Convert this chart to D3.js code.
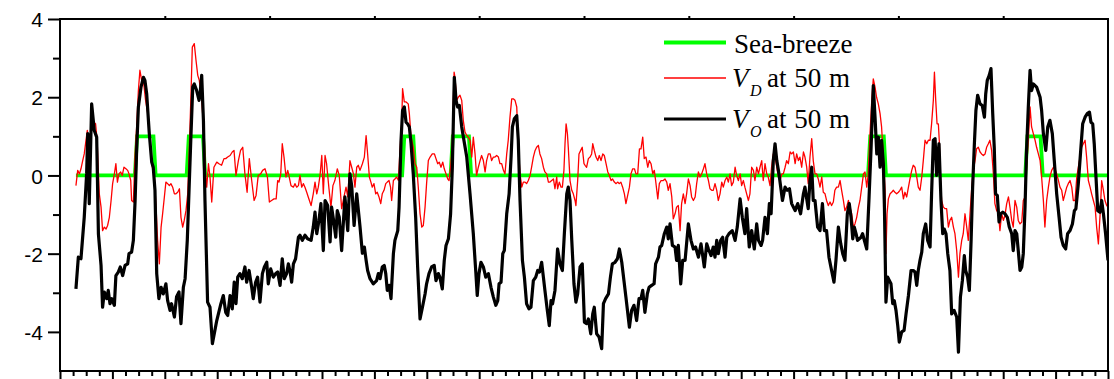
<!DOCTYPE html>
<html>
<head>
<meta charset="utf-8">
<script src="https://cdn.jsdelivr.net/npm/d3@7"></script>
<style>
  html, body { margin: 0; padding: 0; background: #fff; }
  svg { display: block; }
</style>
</head>
<body>
<svg id="chart" width="1114" height="379"></svg>
<script>
// Time axis in hours from the start of the record (20 days).
const timeDomain = [0, 480];
const valueDomain = [-5, 4];
const valueTicks = [4, 2, 0, -2, -4];
const valueMinorTicks = [3, 1, -1, -3];

// Sea-breeze periods [start hour, end hour]; indicator is 1 inside, 0 outside.
const recordStart = 7.3;
const recordEnd = 480;
const seaBreezePeriods = [
  [34.8, 43.3], [58.5, 66.0], [157.2, 162.3], [179.4, 187.8], [370.6, 377.8], [442.6, 449.6]
];

// V_O at 50 m: [hour, value]
const voSeries = [
[7.3,-2.90],[8.4,-2.09],[9.6,-2.13],[11.1,-1.07],[12.2,0.04],[12.7,1.07],[13.4,-0.72],[14.5,1.83],[15.7,1.15],[16.8,0.98],
[17.6,-1.50],[18.8,-2.30],[19.5,-3.37],[20.3,-2.98],[21.4,-3.15],[22.1,-2.94],[22.9,-3.28],[23.7,-3.15],[24.9,-3.32],[25.6,-2.56],
[26.7,-2.47],[27.6,-2.34],[28.7,-2.56],[29.8,-2.30],[31.0,-2.26],[31.6,-2.00],[32.8,-1.96],[33.6,-1.66],[34.4,-0.64],[35.1,0.64],
[35.9,1.75],[37.1,2.26],[38.2,2.51],[38.9,2.43],[39.7,2.09],[40.9,1.07],[42.0,0.34],[42.7,0.21],[43.5,-0.38],[44.3,-2.51],
[45.3,-3.15],[46.3,-2.86],[47.3,-3.03],[48.5,-2.77],[49.3,-3.20],[50.4,-3.45],[51.1,-3.28],[52.4,-3.62],[53.4,-3.10],[54.5,-2.98],
[55.4,-3.79],[56.5,-2.86],[57.3,-2.64],[58.3,-1.66],[59.1,-0.38],[59.9,0.90],[60.8,2.26],[61.5,2.34],[62.6,2.17],[63.7,1.92],
[64.1,2.05],[64.9,2.56],[65.7,1.40],[66.4,-0.64],[67.6,-3.24],[68.7,-3.37],[69.8,-4.30],[71.8,-3.71],[73.7,-3.28],[74.8,-3.07],
[75.9,-3.50],[76.8,-3.58],[77.9,-3.07],[78.9,-3.41],[79.8,-2.73],[80.6,-3.28],[81.4,-2.60],[82.4,-2.51],[83.5,-2.64],[84.7,-2.34],
[85.5,-2.73],[86.6,-2.43],[87.8,-2.86],[88.5,-3.15],[89.6,-2.73],[90.5,-2.60],[91.6,-3.24],[92.7,-2.51],[93.6,-2.34],[94.7,-2.22],
[95.4,-2.77],[96.5,-2.39],[97.7,-2.60],[98.8,-2.51],[99.7,-2.47],[100.8,-2.81],[101.8,-2.13],[102.7,-2.64],[103.8,-2.51],[104.6,-2.26],
[105.3,-2.43],[106.1,-2.73],[106.9,-2.26],[107.9,-2.13],[109.2,-1.58],[109.9,-1.53],[111.0,-1.66],[112.2,-1.53],[113.4,-1.62],[115.0,-1.66],
[116.0,-1.32],[116.8,-0.94],[117.6,-1.49],[118.6,-1.15],[119.5,-0.72],[120.6,-1.92],[121.4,-0.64],[122.6,-0.77],[123.7,-1.70],[124.4,-0.81],
[125.2,-1.11],[126.3,-1.58],[127.0,-0.90],[127.9,-1.07],[129.0,-1.92],[130.5,-0.55],[131.8,-1.41],[132.8,0.04],[133.6,-0.26],[134.7,-1.28],
[135.9,-0.47],[137.4,-1.30],[138.5,-1.99],[139.4,-1.83],[140.2,-2.17],[140.9,-2.43],[142.0,-2.64],[143.5,-2.77],[145.0,-2.69],[145.8,-2.51],
[146.6,-2.64],[147.6,-2.34],[148.5,-2.30],[149.2,-2.51],[149.9,-2.94],[150.8,-2.81],[151.6,-3.15],[152.7,-2.00],[153.4,-1.66],[154.7,-1.41],
[155.3,-0.81],[156.2,0.90],[156.9,1.66],[157.7,1.75],[158.5,1.36],[159.2,1.32],[160.0,1.24],[160.8,0.81],[161.8,0.04],[162.9,-1.07],
[163.8,-2.34],[164.9,-3.67],[166.0,-3.37],[167.2,-3.03],[167.9,-2.77],[169.0,-2.51],[170.2,-2.34],[171.4,-2.30],[172.2,-2.69],[173.3,-2.51],
[174.0,-2.60],[175.1,-2.90],[176.0,-2.17],[176.8,-1.79],[177.9,-1.62],[178.9,-0.98],[179.7,0.21],[180.6,2.51],[181.4,1.92],[182.1,1.75],
[182.9,1.79],[184.0,1.24],[185.0,0.90],[186.3,0.47],[187.8,-0.47],[189.3,-1.49],[190.4,-2.43],[191.1,-3.07],[191.9,-2.51],[192.8,-2.22],
[193.9,-2.34],[195.0,-2.60],[196.2,-2.51],[197.4,-2.86],[198.5,-3.11],[199.6,-3.32],[200.5,-3.20],[201.1,-2.77],[202.0,-2.73],[202.8,-2.00],
[203.5,-1.92],[204.6,-0.98],[205.7,-0.47],[206.6,0.47],[207.2,1.24],[208.1,1.45],[209.2,1.53],[209.9,0.90],[210.7,-0.64],[211.8,-2.17],
[212.7,-2.60],[213.7,-3.28],[214.8,-3.41],[215.7,-3.37],[216.8,-2.69],[217.9,-2.60],[218.8,-2.43],[219.6,-2.47],[220.6,-2.22],[221.4,-2.60],
[222.1,-2.94],[223.2,-3.45],[224.1,-3.84],[224.9,-3.20],[225.6,-3.28],[226.7,-2.94],[227.9,-1.88],[229.0,-2.26],[230.1,-2.43],[231.0,-1.49],
[232.1,-0.47],[232.8,-0.30],[233.6,-0.64],[234.4,-1.66],[235.4,-2.77],[236.3,-3.24],[237.1,-3.03],[238.2,-2.34],[239.2,-2.26],[240.2,-3.75],
[241.2,-3.79],[242.0,-3.67],[243.1,-4.05],[244.0,-3.54],[244.7,-3.37],[245.8,-4.05],[246.9,-4.13],[248.1,-4.43],[248.9,-3.28],[249.9,-3.15],
[251.2,-3.03],[252.1,-2.60],[253.0,-2.26],[254.2,-2.22],[255.3,-2.13],[256.2,-1.88],[257.3,-2.22],[258.3,-2.69],[259.2,-3.11],[260.8,-3.88],
[261.8,-3.45],[262.9,-3.32],[264.1,-3.71],[265.2,-3.15],[266.1,-3.15],[266.9,-2.94],[267.9,-3.50],[269.0,-3.03],[269.8,-2.86],[271.0,-2.81],
[272.1,-2.77],[272.8,-2.26],[274.1,-2.09],[274.8,-1.83],[275.6,-1.79],[276.8,-1.49],[277.9,-1.32],[278.6,-1.62],[279.4,-1.24],[280.5,-1.79],
[281.7,-1.83],[282.4,-2.17],[283.2,-1.79],[284.3,-2.77],[285.2,-2.17],[286.3,-2.17],[287.8,-1.24],[289.0,-1.66],[290.1,-1.88],[291.1,-1.83],
[292.4,-2.09],[293.6,-1.75],[295.1,-2.34],[296.2,-1.75],[297.0,-1.88],[298.2,-2.05],[299.2,-1.83],[300.0,-2.09],[300.8,-1.66],[301.5,-2.00],
[302.6,-1.66],[303.5,-1.58],[304.6,-2.09],[305.4,-1.58],[306.4,-1.49],[307.9,-1.41],[309.2,-1.66],[310.2,-1.32],[311.5,-0.60],[312.5,-1.07],
[313.7,-1.49],[314.5,-0.85],[315.7,-1.83],[316.8,-1.41],[318.0,-1.88],[319.1,-1.24],[319.9,-1.66],[321.1,-1.79],[321.8,-1.66],[322.9,-1.07],
[324.0,-1.49],[324.9,-0.72],[325.7,-0.98],[326.7,0.38],[327.5,0.81],[328.3,0.38],[329.3,0.04],[330.9,-0.64],[332.1,-0.30],[333.1,-0.38],
[334.1,-0.34],[335.1,-0.72],[336.7,-0.90],[337.9,-0.72],[339.2,-0.98],[340.5,-0.47],[341.2,-0.30],[342.7,-0.85],[343.5,-0.13],[344.3,0.21],
[345.0,-0.64],[345.8,-0.64],[347.0,-1.32],[348.1,-1.41],[349.2,-0.72],[350.1,-1.41],[351.1,-1.41],[352.2,-2.09],[353.4,-2.43],[354.5,-2.73],
[355.4,-2.17],[356.5,-1.32],[357.6,-1.75],[358.5,-2.00],[359.5,-2.17],[360.6,-0.98],[361.5,-0.72],[362.3,-1.07],[363.1,-1.62],[363.8,-1.32],
[364.6,-1.49],[365.3,-1.66],[366.1,-1.62],[366.9,-1.58],[367.6,-1.49],[368.4,-1.66],[369.5,-1.88],[370.5,-0.64],[371.5,0.72],[372.5,2.30],
[373.3,1.49],[374.1,0.55],[374.8,0.98],[375.6,0.21],[376.3,0.90],[377.1,0.30],[377.6,-0.81],[378.3,-3.24],[379.1,-2.60],[379.9,-2.69],
[380.6,-2.77],[381.4,-3.28],[382.1,-3.20],[382.9,-3.45],[383.7,-3.84],[384.4,-4.26],[385.5,-4.00],[386.6,-3.96],[387.5,-3.54],[388.6,-3.07],
[389.8,-2.43],[390.8,-2.43],[391.6,-2.47],[392.4,-2.81],[393.1,-2.43],[393.9,-2.17],[394.7,-1.96],[395.4,-1.49],[396.5,-1.24],[397.4,-1.66],
[398.5,-1.83],[399.2,-0.47],[400.0,0.90],[400.8,0.94],[401.5,0.00],[402.0,0.47],[402.6,0.81],[403.5,-0.64],[404.3,-1.49],[405.0,-1.37],
[405.8,-1.49],[406.6,-2.00],[407.6,-2.43],[408.4,-3.54],[409.5,-3.45],[410.7,-3.62],[411.5,-4.52],[412.4,-3.11],[413.3,-2.69],[414.2,-2.05],
[414.8,-2.43],[415.7,-2.60],[416.5,-2.94],[417.3,-1.66],[418.0,-0.30],[418.8,0.81],[419.5,1.66],[420.3,2.05],[421.4,1.83],[422.4,1.79],
[423.4,1.49],[424.0,2.09],[424.7,2.43],[425.6,2.56],[426.4,2.73],[427.2,1.58],[427.9,0.72],[428.5,-0.47],[429.3,-0.51],[430.1,-1.19],
[430.8,-0.98],[431.8,-0.94],[432.8,-0.98],[433.9,-1.07],[434.8,-1.32],[435.9,-1.49],[436.6,-1.92],[437.4,-1.41],[438.2,-1.49],[438.9,-1.92],
[439.7,-2.43],[440.5,-2.34],[441.2,-2.00],[442.0,-0.81],[442.7,0.64],[443.5,1.75],[444.3,2.69],[445.0,2.17],[445.8,2.34],[447.3,2.26],
[448.9,2.00],[449.6,1.66],[450.4,1.07],[451.5,0.64],[452.4,1.24],[453.4,1.41],[454.5,1.07],[455.4,0.38],[456.5,-0.47],[457.6,-1.07],
[458.5,-1.58],[459.5,-1.79],[460.6,-1.88],[461.5,-1.49],[462.6,-1.41],[463.7,-1.24],[464.6,-0.90],[465.3,-0.85],[466.4,-0.21],[467.6,0.72],
[468.4,1.32],[469.5,1.49],[470.5,1.58],[471.5,1.62],[472.2,1.36],[473.0,1.32],[473.7,0.81],[474.5,-0.04],[475.3,-0.90],[476.3,-0.94],
[477.1,-0.64],[477.9,-0.98],[478.9,-1.49],[480.0,-2.17]
];

// V_D at 50 m: [hour, value]
const vdSeries = [
[7.3,-0.26],[8.1,0.13],[8.9,0.04],[9.6,0.17],[10.4,0.38],[11.1,0.55],[11.9,0.90],[12.5,1.15],[13.4,0.80],[14.5,1.20],
[15.7,1.35],[16.3,1.32],[17.0,0.90],[18.0,-0.47],[18.8,-0.81],[19.5,-1.41],[20.3,-1.32],[21.1,-1.37],[21.8,-1.28],[22.6,-1.07],
[23.4,-0.64],[24.1,-0.21],[24.9,0.04],[25.6,0.30],[26.3,-0.17],[27.0,0.04],[27.8,0.09],[28.5,0.00],[29.3,0.21],[30.2,0.17],
[31.0,0.13],[31.6,0.04],[32.4,-0.13],[32.8,-0.64],[33.6,-0.68],[34.4,0.55],[35.1,1.24],[35.9,2.17],[36.6,2.69],[37.4,2.43],
[38.2,2.43],[39.2,1.92],[40.2,1.58],[41.2,0.81],[42.0,0.30],[43.2,-0.04],[44.0,-0.81],[44.7,-1.66],[45.5,-2.26],[46.3,-1.32],
[47.0,-0.98],[47.8,-0.55],[48.5,-0.17],[49.3,-0.21],[50.1,-0.26],[50.8,-0.21],[51.6,-0.30],[52.4,-0.47],[53.1,-0.47],[53.9,-0.43],
[54.7,-0.34],[55.4,-1.07],[56.2,-1.32],[56.9,-1.15],[57.7,-0.90],[58.5,-0.47],[59.2,0.64],[60.0,2.09],[60.6,3.28],[61.5,3.37],
[62.3,2.94],[63.1,2.56],[63.8,2.43],[64.9,1.92],[66.0,1.07],[66.7,0.04],[67.2,-0.30],[68.0,0.30],[68.7,-0.04],[69.5,-0.68],
[70.5,0.21],[71.8,0.34],[72.8,0.30],[74.0,0.26],[75.1,0.43],[75.9,0.43],[76.8,0.47],[77.9,0.51],[78.9,0.60],[79.7,0.64],
[80.6,0.00],[81.7,0.38],[82.7,0.64],[83.7,0.72],[84.7,0.04],[85.7,-0.43],[86.7,0.43],[87.8,-0.13],[88.9,-0.64],[89.8,-0.51],
[90.8,0.00],[91.9,0.04],[92.8,0.13],[93.9,0.17],[95.0,-0.04],[95.9,-0.68],[96.9,-0.64],[98.0,-0.60],[99.0,-0.60],[99.7,-0.13],
[100.3,-0.17],[101.1,0.04],[101.8,0.81],[102.6,0.47],[103.5,-0.04],[104.3,0.13],[105.0,-0.04],[105.8,-0.26],[106.9,-0.30],[107.6,-0.21],
[108.4,-0.30],[109.2,-0.26],[109.9,0.00],[110.7,-0.30],[111.5,-0.21],[112.2,-0.30],[113.0,-0.43],[113.7,-0.55],[115.0,-0.77],[116.0,-0.47],
[116.8,-0.17],[117.6,-0.47],[118.3,-0.30],[119.1,0.00],[119.9,0.51],[120.6,-0.47],[121.4,0.51],[122.1,0.30],[123.2,-0.34],[124.1,-0.81],
[125.0,-0.26],[125.9,-0.13],[127.0,0.17],[127.9,0.00],[129.0,-0.85],[130.2,-0.51],[131.0,-0.30],[131.8,-0.55],[132.8,0.38],[133.6,0.21],
[134.4,0.04],[135.1,-0.30],[135.9,0.21],[136.6,0.26],[137.4,0.13],[138.5,0.30],[139.4,0.47],[140.2,1.02],[140.9,0.55],[141.7,-0.04],
[142.4,-0.17],[143.0,-0.30],[143.8,-0.21],[144.6,-0.47],[145.3,-0.43],[146.1,-0.55],[146.9,-0.72],[147.6,-0.47],[148.4,-0.38],[149.2,-0.21],
[149.9,-0.17],[150.7,-0.13],[151.4,-0.30],[151.9,-0.64],[152.7,-0.13],[153.4,-0.09],[154.2,-0.04],[155.0,-0.13],[155.7,0.64],[156.5,1.32],
[156.9,2.22],[157.7,1.88],[158.5,1.88],[159.5,1.83],[160.0,1.58],[160.8,0.98],[161.8,0.72],[162.6,0.30],[163.4,0.21],[164.1,-0.30],
[164.9,-0.98],[165.7,-1.32],[166.4,-1.28],[167.2,-0.81],[167.9,-0.21],[168.7,0.38],[169.5,0.47],[170.5,0.55],[171.5,0.55],[172.2,0.43],
[173.0,0.30],[173.7,0.34],[174.5,0.21],[175.3,0.34],[176.0,0.17],[176.8,0.04],[177.6,-0.09],[178.2,-0.13],[178.9,0.21],[179.7,0.90],
[180.5,2.64],[180.9,2.51],[181.7,1.92],[182.4,2.00],[183.2,2.05],[184.0,1.92],[184.7,1.41],[185.5,1.11],[186.3,1.02],[187.0,0.98],
[187.8,0.90],[188.6,0.47],[189.3,0.98],[190.1,0.55],[190.8,0.00],[191.6,0.21],[192.4,0.38],[193.1,0.51],[193.9,0.38],[194.7,0.09],
[195.4,0.38],[196.2,0.55],[197.0,0.55],[197.7,0.38],[198.5,0.47],[199.2,0.47],[200.0,0.51],[200.8,0.47],[201.5,0.30],[202.3,0.30],
[203.1,0.13],[203.8,0.04],[204.6,0.55],[205.3,0.90],[206.1,1.49],[206.9,1.96],[207.6,1.96],[208.4,1.92],[209.2,1.75],[209.9,0.72],
[210.7,0.04],[211.5,-0.30],[212.2,-0.17],[213.0,-0.17],[213.7,-0.21],[214.5,-0.13],[215.3,0.00],[216.0,0.21],[216.8,0.47],[217.6,0.64],
[218.3,0.72],[219.1,0.77],[219.8,0.55],[220.6,0.43],[221.4,0.21],[222.1,0.09],[222.9,0.04],[223.7,-0.17],[224.4,-0.17],[225.2,-0.13],
[226.0,-0.09],[226.7,-0.34],[227.5,-0.04],[227.9,-0.34],[228.7,-0.17],[229.5,-0.30],[230.1,-0.30],[230.8,0.13],[231.3,0.81],[231.8,1.32],
[232.4,1.07],[232.8,0.72],[233.6,-0.13],[234.4,-0.38],[235.1,-0.47],[235.9,-0.64],[236.3,-0.77],[237.1,-0.13],[237.7,0.55],[238.5,0.64],
[239.2,0.72],[240.0,0.30],[240.5,0.26],[241.2,0.21],[242.0,0.43],[242.8,0.47],[243.5,0.55],[244.0,0.81],[244.7,0.64],[245.5,0.47],
[246.3,0.38],[247.0,0.51],[247.8,0.38],[248.6,0.55],[249.3,0.51],[250.1,0.30],[250.9,0.09],[251.6,0.00],[252.4,-0.13],[253.1,-0.09],
[253.9,-0.17],[254.7,-0.21],[255.4,-0.17],[256.2,-0.21],[256.9,-0.17],[257.7,-0.30],[258.5,-0.47],[259.2,-0.72],[260.0,-0.51],[260.8,-0.30],
[261.5,0.04],[262.3,0.17],[263.1,0.17],[263.8,0.04],[264.6,0.04],[265.4,0.68],[266.1,0.68],[266.9,0.98],[267.6,0.43],[268.4,0.47],
[269.2,0.21],[269.9,0.38],[270.7,0.30],[271.5,0.04],[272.2,0.13],[272.8,-0.13],[273.8,-0.60],[274.5,-0.21],[275.3,-0.13],[276.3,-0.13],
[277.1,-0.09],[277.9,-0.17],[278.6,-0.38],[279.4,-0.21],[280.2,-0.55],[280.9,-1.11],[281.7,-0.98],[282.4,-0.81],[283.2,-0.77],[284.0,-1.41],
[284.7,-0.72],[285.5,-0.47],[286.3,-0.72],[287.0,-0.47],[287.8,-0.09],[288.6,-0.26],[289.3,-0.55],[290.1,-0.64],[290.9,-0.55],[291.6,-0.21],
[292.4,0.09],[293.1,-0.04],[293.9,0.04],[294.7,0.17],[295.4,0.30],[296.2,0.04],[297.0,-0.13],[297.7,-0.34],[298.5,-0.38],[299.2,-0.38],
[300.0,-0.21],[300.8,-0.38],[301.5,-0.64],[302.3,-0.47],[303.1,-0.17],[303.8,-0.30],[304.6,-0.13],[305.4,-0.04],[306.1,-0.17],[306.9,0.04],
[307.6,-0.26],[308.4,-0.17],[309.2,0.21],[309.9,0.00],[310.7,-0.13],[311.5,0.04],[312.2,-0.26],[313.0,-0.13],[313.7,-0.30],[314.5,-0.47],
[315.3,-0.64],[316.0,-0.47],[316.8,0.21],[317.6,0.13],[318.3,-0.13],[319.1,0.21],[319.9,0.04],[320.6,0.21],[321.4,0.38],[322.1,-0.13],
[322.9,0.30],[323.7,0.04],[324.4,-0.04],[325.2,-0.26],[325.9,0.21],[326.7,0.55],[327.5,0.47],[328.3,0.21],[329.0,-0.04],[329.8,-0.13],
[330.6,0.04],[331.3,0.04],[332.1,0.21],[332.8,0.38],[333.6,0.30],[334.4,0.60],[335.1,0.55],[335.9,0.60],[336.7,0.30],[337.4,0.55],
[338.2,0.38],[338.9,0.47],[339.7,0.21],[340.5,0.60],[341.2,0.47],[342.0,0.21],[342.7,-0.21],[343.5,0.47],[344.3,0.94],[345.0,0.38],
[345.8,0.04],[346.6,0.04],[347.3,-0.09],[348.1,-0.30],[348.9,-0.04],[349.6,-0.43],[350.4,-0.47],[351.1,-0.64],[351.9,-0.77],[352.7,-0.68],
[353.4,-0.77],[354.2,-0.68],[354.9,-0.38],[355.7,-0.30],[356.5,-0.30],[357.3,-0.13],[358.0,-0.38],[358.8,-0.64],[359.5,-0.90],[360.3,-0.81],
[361.1,-0.64],[361.8,-0.81],[362.6,-0.98],[363.4,-1.32],[364.1,-1.24],[364.9,-1.07],[365.7,-0.81],[366.4,-0.64],[367.2,-0.30],[368.0,0.04],
[368.7,0.09],[369.5,-0.30],[370.2,0.04],[371.0,1.07],[371.8,1.92],[372.5,2.47],[373.3,2.26],[374.0,2.00],[374.8,1.83],[375.6,1.58],
[376.3,1.24],[377.1,0.47],[377.9,-0.38],[378.3,-2.00],[378.8,-0.98],[379.4,-0.60],[380.2,-0.47],[380.9,-0.43],[381.7,-0.38],[382.4,-0.43],
[383.2,-0.47],[384.0,-0.43],[384.7,-0.38],[385.5,-0.30],[386.3,-0.60],[387.0,-0.43],[387.8,-0.55],[388.6,-0.30],[389.3,-0.09],[390.1,0.13],
[390.8,0.26],[391.6,0.21],[392.4,-0.04],[393.1,-0.30],[393.9,-0.38],[394.7,-0.04],[395.4,0.38],[396.2,0.90],[397.0,0.81],[397.7,0.90],
[398.5,0.90],[399.2,1.32],[400.0,1.92],[400.5,2.64],[401.1,1.92],[401.7,1.32],[402.3,1.32],[402.8,0.81],[403.1,0.04],[403.8,-0.64],
[404.6,-0.81],[405.4,-0.85],[406.1,-0.85],[406.9,-1.32],[407.6,-1.15],[408.4,-1.07],[409.2,-1.32],[409.9,-1.49],[410.7,-1.92],[411.5,-2.60],
[412.2,-1.99],[413.0,-1.66],[413.7,-1.49],[414.5,-0.98],[415.3,-1.32],[416.0,-1.66],[416.8,-0.98],[417.6,-0.30],[418.3,0.13],[419.1,0.38],
[419.8,0.68],[420.6,0.72],[421.4,0.60],[422.1,0.55],[422.9,0.51],[423.7,0.55],[424.4,0.72],[425.2,0.81],[425.9,0.90],[426.7,0.64],
[427.5,0.04],[428.2,-0.72],[429.0,-0.90],[429.8,-0.94],[430.5,-1.41],[431.3,-0.98],[432.1,-1.15],[432.8,-1.02],[433.6,-0.72],[434.4,-0.55],
[435.1,-0.81],[435.9,-1.15],[436.6,-1.32],[437.4,-0.64],[438.2,-0.81],[438.9,-1.15],[439.7,-1.24],[440.5,-1.19],[441.2,-0.64],[442.0,-0.55],
[442.7,0.21],[443.5,0.90],[444.3,1.75],[445.0,1.24],[445.8,1.07],[446.6,0.90],[447.3,0.72],[448.1,0.55],[448.9,0.38],[449.6,-0.04],
[450.4,-0.64],[451.1,-1.32],[451.9,-0.64],[452.7,-0.30],[453.4,-0.04],[454.2,0.13],[455.0,0.21],[455.7,0.17],[456.5,0.04],[457.3,-0.13],
[458.0,-0.30],[458.8,-0.38],[459.5,-0.64],[460.3,-0.47],[461.1,-0.30],[461.8,-0.21],[462.6,-0.13],[463.4,-0.30],[464.1,-0.64],[464.9,-0.64],
[465.7,-0.04],[466.4,0.21],[467.2,0.47],[467.9,0.72],[468.7,0.81],[469.5,0.90],[470.2,0.47],[471.0,-0.13],[471.8,-0.30],[472.5,-0.47],
[473.3,-0.64],[474.1,-0.81],[474.8,-1.32],[475.6,-1.75],[476.4,-0.98],[477.1,-0.13],[477.9,-0.38],[478.6,-0.64],[479.4,-0.77],[480.0,-0.81]
];

const legendItems = [
  { label: "Sea-breeze", sub: null, color: "#00ff00", width: 3.8 },
  { label: "V", sub: "D", color: "#ff0000", width: 1.3 },
  { label: "V", sub: "O", color: "#000000", width: 3.2 }
];

// ---------- layout ----------
const plot = { left: 60, right: 1108, top: 19, bottom: 371 };

const svg = d3.select("#chart");
const x = d3.scaleLinear().domain(timeDomain).range([plot.left, plot.right]);
const y = d3.scaleLinear().domain(valueDomain).range([plot.bottom, plot.top]);

// Sea-breeze indicator as a step series built from its periods (1 h transitions).
const seaBreezeSeries = [[recordStart, 0]];
seaBreezePeriods.forEach(([s, e]) => {
  seaBreezeSeries.push([s - 0.5, 0], [s + 0.5, 1], [e - 0.5, 1], [e + 0.5, 0]);
});
seaBreezeSeries.push([recordEnd, 0]);

svg.append("defs").append("clipPath").attr("id", "plotClip")
  .append("rect")
  .attr("x", plot.left).attr("y", plot.top)
  .attr("width", plot.right - plot.left).attr("height", plot.bottom - plot.top);

const line = d3.line().x(d => x(d[0])).y(d => y(d[1]));
const series = svg.append("g").attr("clip-path", "url(#plotClip)");

series.append("path").datum(seaBreezeSeries)
  .attr("d", line).attr("fill", "none")
  .attr("stroke", legendItems[0].color).attr("stroke-width", legendItems[0].width);

series.append("path").datum(vdSeries)
  .attr("d", line).attr("fill", "none")
  .attr("stroke", legendItems[1].color).attr("stroke-width", legendItems[1].width)
  .attr("stroke-linejoin", "round");

series.append("path").datum(voSeries)
  .attr("d", line).attr("fill", "none")
  .attr("stroke", legendItems[2].color).attr("stroke-width", legendItems[2].width)
  .attr("stroke-linejoin", "round");

// ---------- axes ----------
const axisFont = "'Liberation Sans', Arial, Helvetica, sans-serif";
const fmt = d => (d < 0 ? "-" : "") + Math.abs(d);

function styleAxis(g) {
  g.select(".domain").remove();
  g.selectAll(".tick line").attr("stroke", "#000").attr("stroke-width", 2);
}

// Left: major with labels, minor without
svg.append("g").attr("transform", `translate(${plot.left},0)`)
  .call(d3.axisLeft(y).tickValues(valueTicks).tickSize(12).tickPadding(5).tickFormat(fmt))
  .call(styleAxis)
  .call(g => g.selectAll(".tick text")
    .attr("font-family", axisFont).attr("font-size", 21).attr("fill", "#000")
    .attr("dy", "0.36em"));
svg.append("g").attr("transform", `translate(${plot.left},0)`)
  .call(d3.axisLeft(y).tickValues(valueMinorTicks).tickSize(7).tickFormat(""))
  .call(styleAxis);

// Bottom: daily major ticks, 6-hourly minor ticks
svg.append("g").attr("transform", `translate(0,${plot.bottom})`)
  .call(d3.axisBottom(x).tickValues(d3.range(0, 481, 24)).tickSize(10).tickFormat(""))
  .call(styleAxis);
svg.append("g").attr("transform", `translate(0,${plot.bottom})`)
  .call(d3.axisBottom(x).tickValues(d3.range(6, 480, 6).filter(h => h % 24 !== 0)).tickSize(5).tickFormat(""))
  .call(styleAxis);

// Top: small ticks every two days
svg.append("g").attr("transform", `translate(0,${plot.top})`)
  .call(d3.axisTop(x).tickValues(d3.range(48, 480, 48)).tickSize(3).tickFormat(""))
  .call(styleAxis);

// Frame
svg.append("rect")
  .attr("x", plot.left).attr("y", plot.top)
  .attr("width", plot.right - plot.left).attr("height", plot.bottom - plot.top)
  .attr("fill", "none").attr("stroke", "#000").attr("stroke-width", 2);

// ---------- legend ----------
const serif = "'Liberation Serif', 'Times New Roman', Times, serif";
const legend = svg.append("g");
const rows = [
  { lineY: 42.5, baseY: 52.5 },
  { lineY: 78, baseY: 87 },
  { lineY: 119, baseY: 128 }
];
legendItems.forEach((item, i) => {
  const r = rows[i];
  legend.append("line")
    .attr("x1", 664).attr("x2", 726).attr("y1", r.lineY).attr("y2", r.lineY)
    .attr("stroke", item.color).attr("stroke-width", item.width);
  if (item.sub) {
    legend.append("text")
      .attr("x", 732).attr("y", r.baseY)
      .attr("font-family", serif).attr("font-size", 27).attr("font-style", "italic")
      .attr("fill", "#000").text(item.label);
    legend.append("text")
      .attr("x", 750).attr("y", r.baseY + 9)
      .attr("font-family", serif).attr("font-size", 16).attr("font-style", "italic")
      .attr("fill", "#000").text(item.sub);
    legend.append("text")
      .attr("x", 767).attr("y", r.baseY)
      .attr("font-family", serif).attr("font-size", 27).attr("word-spacing", 1)
      .attr("fill", "#000").text("at 50 m");
  } else {
    legend.append("text")
      .attr("x", 734).attr("y", r.baseY)
      .attr("font-family", serif).attr("font-size", 27)
      .attr("fill", "#000").text(item.label);
  }
});
</script>
</body>
</html>
